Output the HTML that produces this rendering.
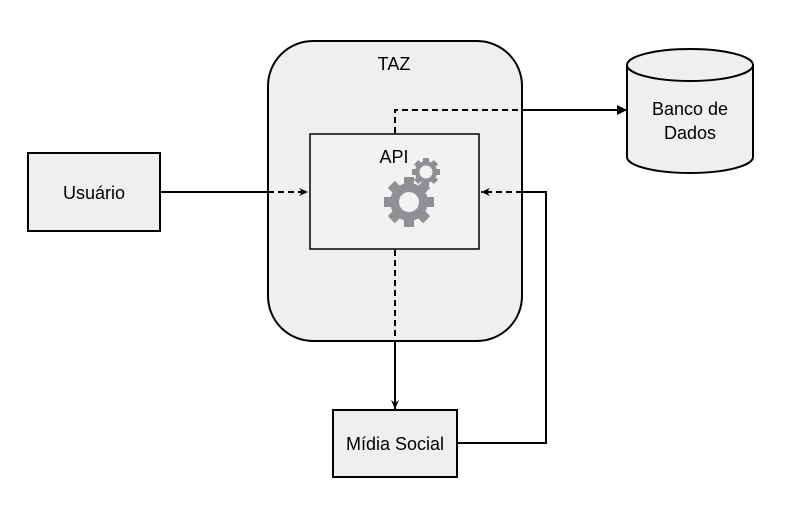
<!DOCTYPE html>
<html><head><meta charset="utf-8"><style>html,body{margin:0;padding:0;background:#fff}</style></head>
<body>
<svg width="788" height="517" xmlns="http://www.w3.org/2000/svg" font-family="Liberation Sans, sans-serif" font-size="18">
<defs>
<marker id="a" markerWidth="10" markerHeight="10" refX="9" refY="5" orient="auto" markerUnits="userSpaceOnUse"><path d="M0,0 L10,5 L0,10 Z" fill="#000"/></marker>
<marker id="b" markerWidth="10" markerHeight="10" refX="9" refY="5" orient="auto" markerUnits="userSpaceOnUse"><path d="M0,1 L9,5 L0,9 L3,5 Z" fill="#000"/></marker>
</defs>
<rect x="268" y="41" width="254" height="300" rx="45" fill="#efefef" stroke="#000" stroke-width="2"/>
<text x="394" y="70" text-anchor="middle">TAZ</text>
<rect x="310" y="134" width="169" height="115" fill="#f2f2f2" stroke="#000" stroke-width="1.5"/>
<text x="394" y="163" text-anchor="middle">API</text>
<g fill="#918f94">
<circle cx="409" cy="202" r="19"/>
<g transform="translate(409,202)">
<rect x="-5" y="-25" width="10" height="50"/><rect x="-25" y="-5" width="50" height="10"/>
<rect x="-5" y="-25" width="10" height="50" transform="rotate(45)"/><rect x="-5" y="-25" width="10" height="50" transform="rotate(-45)"/>
</g>
<circle cx="426" cy="172" r="11"/>
<g transform="translate(426,172)">
<rect x="-3" y="-14" width="6" height="28"/><rect x="-14" y="-3" width="28" height="6"/>
<rect x="-3" y="-14" width="6" height="28" transform="rotate(45)"/><rect x="-3" y="-14" width="6" height="28" transform="rotate(-45)"/>
</g>
</g>
<circle cx="409" cy="202" r="10" fill="#f2f2f2"/>
<circle cx="426" cy="172" r="6.5" fill="#f2f2f2"/>
<rect x="28" y="153" width="132" height="78" fill="#efefef" stroke="#000" stroke-width="2"/>
<text x="94" y="199" text-anchor="middle">Usuário</text>
<rect x="333" y="410" width="124" height="67" fill="#efefef" stroke="#000" stroke-width="2"/>
<text x="395" y="450" text-anchor="middle">Mídia Social</text>
<path d="M627,65 L627,157 A63,16 0 0 0 753,157 L753,65" fill="#efefef" stroke="#000" stroke-width="2"/>
<ellipse cx="690" cy="65" rx="63" ry="16" fill="#efefef" stroke="#000" stroke-width="2"/>
<text x="690" y="115" text-anchor="middle">Banco de</text>
<text x="690" y="139" text-anchor="middle">Dados</text>
<line x1="160" y1="192" x2="268" y2="192" stroke="#000" stroke-width="2"/>
<line x1="268" y1="192" x2="308" y2="192" stroke="#000" stroke-width="2" stroke-dasharray="6,4" marker-end="url(#b)"/>
<path d="M395,133 L395,110 L522,110" fill="none" stroke="#000" stroke-width="2" stroke-dasharray="6,4"/>
<line x1="522" y1="110" x2="626" y2="110" stroke="#000" stroke-width="2" marker-end="url(#a)"/>
<line x1="395" y1="250" x2="395" y2="341" stroke="#000" stroke-width="2" stroke-dasharray="6,4"/>
<line x1="395" y1="341" x2="395" y2="409" stroke="#000" stroke-width="2" marker-end="url(#b)"/>
<path d="M457,443 L546,443 L546,192 L522,192" fill="none" stroke="#000" stroke-width="2"/>
<line x1="522" y1="192" x2="481" y2="192" stroke="#000" stroke-width="2" stroke-dasharray="6,4" marker-end="url(#b)"/>
</svg>
</body></html>
